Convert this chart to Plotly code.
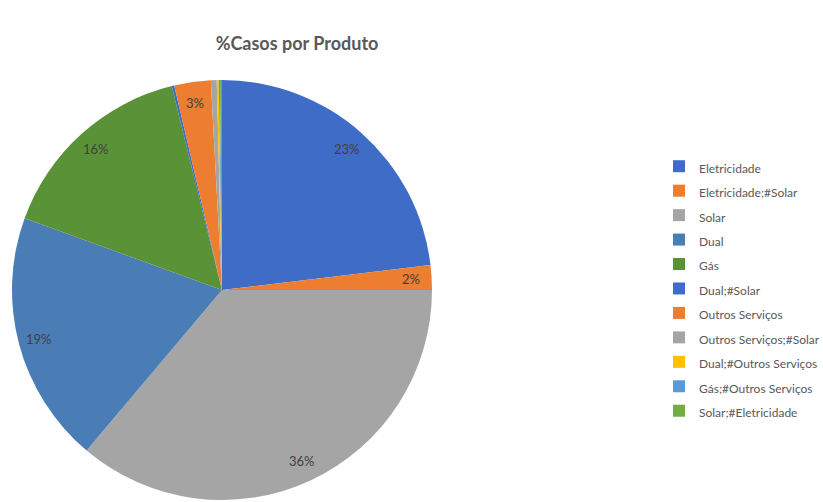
import math
import plotly.graph_objects as go

# Share of cases per product (%)
produtos = [
    "Eletricidade", "Eletricidade;#Solar", "Solar", "Dual", "Gás",
    "Dual;#Solar", "Outros Serviços", "Outros Serviços;#Solar",
    "Dual;#Outros Serviços", "Gás;#Outros Serviços", "Solar;#Eletricidade",
]
casos = [23.1, 1.9, 36.15, 19.4, 15.6, 0.2, 2.8, 0.45, 0.15, 0.1, 0.15]
cores = [
    "#3F6CC6", "#ED7D31", "#A5A5A5", "#4A7DB6", "#5A9238",
    "#3F6CC6", "#ED7D31", "#A5A5A5", "#FFC000", "#5B9BD5", "#70AD47",
]

W, H = 823, 502
# pie placement (pixels): centre and radius
CX, CY, R = 222, 290, 210

total = sum(casos)
legenda = [f'<span style="font-size:12px">{p}</span>' for p in produtos]

fig = go.Figure(
    go.Pie(
        labels=legenda,
        values=casos,
        textinfo="none",
        marker=dict(colors=cores, line=dict(width=0)),
        sort=False,
        direction="clockwise",
        rotation=0,
        domain=dict(x=[(CX - R) / W, (CX + R) / W],
                    y=[1 - (CY + R) / H, 1 - (CY - R) / H]),
        hoverinfo="skip",
    )
)

# percentage labels placed near the outer edge of each slice (>= 1%)
acum = 0.0
for v in casos:
    frac = v / total
    meio = (acum + frac / 2) * 2 * math.pi
    acum += frac
    if frac < 0.01:
        continue
    r = 0.9 * R
    px = CX + r * math.sin(meio)
    py = CY - r * math.cos(meio)
    fig.add_annotation(
        x=px / W, y=1 - py / H, xref="paper", yref="paper",
        text=f"{round(frac * 100)}%", showarrow=False,
        xanchor="center", yanchor="middle",
        font=dict(family="Lato", size=13, color="#404040"),
    )

fig.update_layout(
    width=W,
    height=H,
    margin=dict(l=0, r=0, t=0, b=0, autoexpand=False),
    paper_bgcolor="white",
    plot_bgcolor="white",
    title=dict(
        text="<b>%Casos por Produto</b>",
        x=297 / W,
        xanchor="center",
        y=1 - 44 / H,
        yanchor="middle",
        font=dict(family="Lato", size=18, color="#595959"),
    ),
    legend=dict(
        x=659 / W,
        xanchor="left",
        y=1 - 288.5 / H,
        yanchor="middle",
        font=dict(family="Lato", size=16.5, color="#595959"),
        itemwidth=30,
        bgcolor="rgba(0,0,0,0)",
    ),
)

fig.write_html("out.html")
